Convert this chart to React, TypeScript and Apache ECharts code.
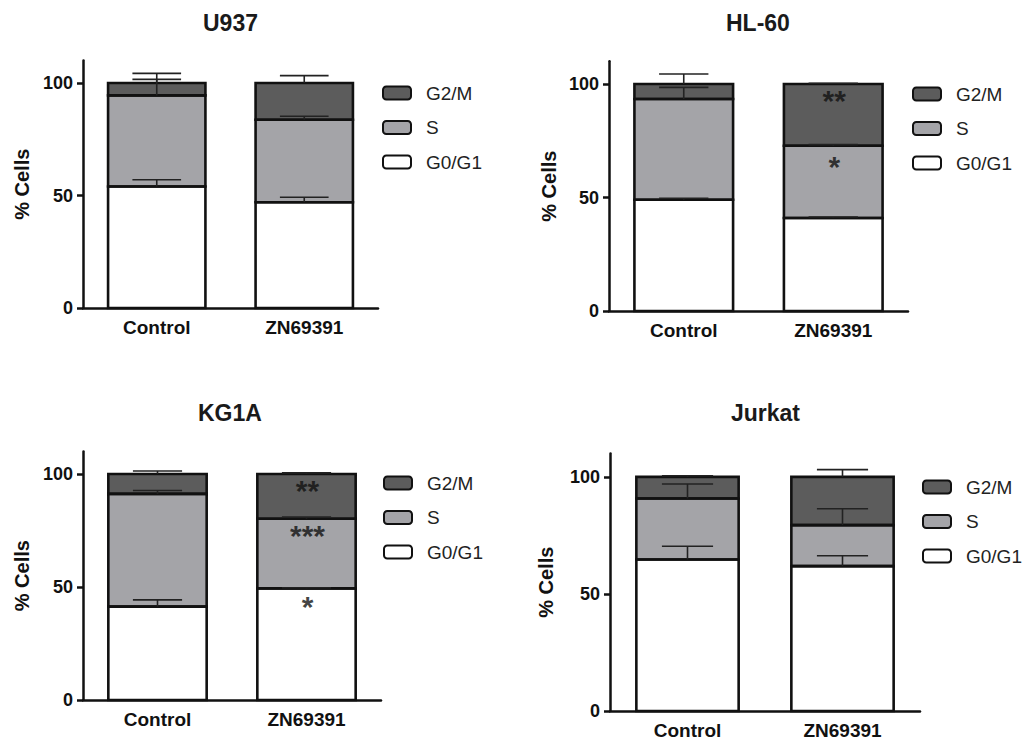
import React, { useEffect, useRef } from "react";
import * as echarts from "echarts";

const categories = ["Control", "ZN69391"];
const panelNames = ["U937", "HL-60", "KG1A", "Jurkat"];
const phaseNames = ["G0/G1", "S", "G2/M"];
const legendOrder = ["G2/M", "S", "G0/G1"];

// percentages per panel [Control, ZN69391]
const g0g1Values = [
  [54.0, 47.0],
  [49.0, 41.0],
  [41.3, 49.4],
  [64.7, 61.9],
];
const sValues = [
  [40.5, 36.7],
  [44.4, 31.8],
  [49.9, 30.8],
  [26.1, 17.5],
];
const g2mValues = [
  [5.5, 16.3],
  [6.6, 27.2],
  [8.8, 19.8],
  [9.2, 20.6],
];
// upward error (SEM) per panel [Control, ZN69391]
const g0g1Err = [
  [3.0, 2.2],
  [0.7, 0.4],
  [3.0, 0.3],
  [5.7, 4.4],
];
const sErr = [
  [7.1, 1.5],
  [5.1, 0.5],
  [1.5, 0.7],
  [6.2, 7.0],
];
const g2mErr = [
  [4.3, 3.3],
  [4.4, 0.3],
  [1.3, 0.5],
  [0.5, 3.1],
];
// significance marks: panel, category index, y value, text
const sigPanel = [1, 1, 2, 2, 2];
const sigCat = [1, 1, 1, 1, 1];
const sigY = [94.8, 66.0, 95.1, 75.2, 43.4];
const sigText = ["**", "*", "**", "***", "*"];

const yTicks = [0, 50, 100];

const FONT = "'Liberation Sans', Arial, Helvetica, sans-serif";
const phaseColors: Record<string, string> = {
  "G0/G1": "#ffffff",
  S: "#a4a4a8",
  "G2/M": "#5c5c5c",
};
const BAR_FRACTION = 0.66;

const grids = [
  { left: 83, top: 60.5, width: 295, height: 247.5 },
  { left: 609, top: 61.3, width: 299, height: 249.7 },
  { left: 83, top: 451.4, width: 298, height: 248.6 },
  { left: 610, top: 453.5, width: 310, height: 258.5 },
];
const titlePos = [
  { left: 203, top: 11 },
  { left: 726, top: 11 },
  { left: 198, top: 401 },
  { left: 731, top: 401 },
];
const namePos = [51, 50, 51, 54];
const legendPos = [
  { left: 382, top: 83.5 },
  { left: 912, top: 84.5 },
  { left: 383, top: 473.5 },
  { left: 922, top: 477.5 },
];

function buildOption() {
  const series: any[] = [];
  const xAxis: any[] = [];
  const yAxis: any[] = [];
  const title: any[] = [];
  const legend: any[] = [];

  panelNames.forEach((pname, p) => {
    title.push({
      text: pname,
      left: titlePos[p].left,
      top: titlePos[p].top,
      padding: 0,
      textStyle: { fontFamily: FONT, fontSize: 23, fontWeight: "bold", color: "#1a1a1a" },
    });
    legend.push({
      orient: "vertical",
      left: legendPos[p].left,
      top: legendPos[p].top,
      padding: 0,
      data: legendOrder,
      icon: "roundRect",
      itemWidth: 28,
      itemHeight: 13,
      itemGap: 15.5,
      selectedMode: false,
      itemStyle: { borderColor: "#111", borderWidth: 2 },
      textStyle: { fontFamily: FONT, fontSize: 19, color: "#222", padding: [0, 0, 0, 10] },
    });
    xAxis.push({
      type: "category",
      gridIndex: p,
      data: categories,
      axisLine: { lineStyle: { color: "#111", width: 2.5 } },
      axisTick: { alignWithLabel: true, length: 6, lineStyle: { color: "#111", width: 2 } },
      axisLabel: { fontFamily: FONT, fontSize: 19, fontWeight: "bold", color: "#111", margin: 10 },
      splitLine: { show: false },
    });
    yAxis.push({
      type: "value",
      gridIndex: p,
      min: 0,
      max: 110,
      interval: 50,
      name: "% Cells",
      nameLocation: "middle",
      nameRotate: 90,
      nameGap: namePos[p],
      nameTextStyle: { fontFamily: FONT, fontSize: 20, fontWeight: "bold", color: "#111" },
      axisLine: { show: true, lineStyle: { color: "#111", width: 2.5 } },
      axisTick: {
        show: true,
        length: 6,
        customValues: yTicks,
        lineStyle: { color: "#111", width: 2.5 },
      },
      axisLabel: {
        fontFamily: FONT,
        fontSize: 18,
        fontWeight: "bold",
        color: "#111",
        margin: 10,
        customValues: yTicks,
      },
      splitLine: { show: false },
    });

    const phaseData: Record<string, number[]> = {
      "G0/G1": g0g1Values[p],
      S: sValues[p],
      "G2/M": g2mValues[p],
    };
    const phaseErr: Record<string, number[]> = {
      "G0/G1": g0g1Err[p],
      S: sErr[p],
      "G2/M": g2mErr[p],
    };
    phaseNames.forEach((ph) => {
      series.push({
        type: "bar",
        name: ph,
        xAxisIndex: p,
        yAxisIndex: p,
        stack: "panel" + p,
        barWidth: BAR_FRACTION * 100 + "%",
        data: phaseData[ph],
        itemStyle: { color: phaseColors[ph], borderWidth: 0 },
        emphasis: { disabled: true },
      });
    });

    // segment extents and error bars (upward) from each segment top
    const segData: number[][] = [];
    const errData: number[][] = [];
    categories.forEach((_, c) => {
      let cum = 0;
      phaseNames.forEach((ph) => {
        const lo = cum;
        cum += phaseData[ph][c];
        segData.push([c, lo, cum]);
        errData.push([c, cum, cum + phaseErr[ph][c]]);
      });
    });

    // outlines of stacked segments (centered strokes so shared edges coincide)
    series.push({
      type: "custom",
      name: "outline" + p,
      xAxisIndex: p,
      yAxisIndex: p,
      z: 4,
      silent: true,
      encode: { x: 0, y: [1, 2] },
      data: segData,
      renderItem: (params: any, api: any) => {
        const x = api.value(0);
        const p0 = api.coord([x, api.value(1)]);
        const p1 = api.coord([x, api.value(2)]);
        const w = api.size([1, 0])[0] * BAR_FRACTION;
        return {
          type: "rect",
          shape: { x: p0[0] - w / 2, y: p1[1], width: w, height: p0[1] - p1[1] },
          style: { fill: "none", stroke: "#111", lineWidth: 2.6 },
        };
      },
    });

    series.push({
      type: "custom",
      name: "err" + p,
      xAxisIndex: p,
      yAxisIndex: p,
      z: 5,
      silent: true,
      encode: { x: 0, y: [1, 2] },
      data: errData,
      renderItem: (params: any, api: any) => {
        const x = api.value(0);
        const p0 = api.coord([x, api.value(1)]);
        const p1 = api.coord([x, api.value(2)]);
        const half = api.size([1, 0])[0] * 0.165;
        const st = { stroke: "#222", lineWidth: 1.6 };
        return {
          type: "group",
          children: [
            { type: "line", shape: { x1: p0[0], y1: p0[1], x2: p1[0], y2: p1[1] }, style: st },
            { type: "line", shape: { x1: p1[0] - half, y1: p1[1], x2: p1[0] + half, y2: p1[1] }, style: st },
          ],
        };
      },
    });

    const sig: any[] = [];
    sigPanel.forEach((sp, i) => {
      if (sp === p) sig.push({ value: [sigCat[i], sigY[i]], name: sigText[i] });
    });
    if (sig.length) {
      series.push({
        type: "scatter",
        name: "sig" + p,
        xAxisIndex: p,
        yAxisIndex: p,
        symbolSize: 0,
        z: 6,
        silent: true,
        data: sig,
        label: {
          show: true,
          position: "inside",
          formatter: "{b}",
          fontFamily: FONT,
          fontSize: 30,
          fontWeight: "bold",
          color: "#111",
          offset: [1, 5],
        },
      });
    }
  });

  return {
    animation: false,
    backgroundColor: "#ffffff",
    title,
    legend,
    grid: grids.map((g) => ({ ...g, containLabel: false })),
    xAxis,
    yAxis,
    series,
  };
}

export default function App() {
  const ref = useRef<HTMLDivElement>(null);
  useEffect(() => {
    if (!ref.current) return;
    const chart = echarts.init(ref.current, undefined, { renderer: "svg" });
    chart.setOption(buildOption() as any);
    return () => chart.dispose();
  }, []);
  return (
    <div
      ref={ref}
      style={{ position: "absolute", left: 0, top: 0, width: 1030, height: 740, background: "#fff" }}
    />
  );
}
